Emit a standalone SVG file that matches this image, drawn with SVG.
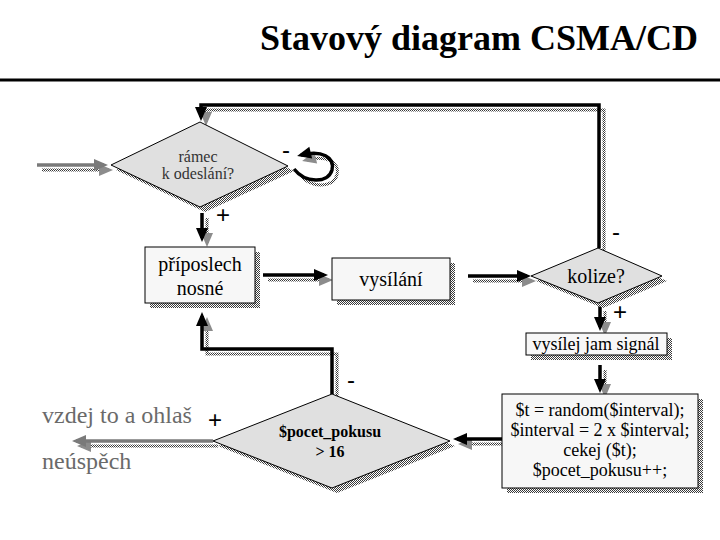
<svg xmlns="http://www.w3.org/2000/svg" width="720" height="540" viewBox="0 0 720 540">
<style>
.t{font-family:"Liberation Serif","Times New Roman",serif;}
.s{font-family:"Liberation Sans",Arial,sans-serif;}
.node{stroke:#000;stroke-width:1;}
.box{fill:#f7f7f7;}
.dia{fill:#e0e0e0;}
.shf{fill:url(#dith);stroke:none;}
.c{fill:none;stroke:#000;stroke-width:3.5;marker-end:url(#ah);}
.g{fill:none;stroke:#7a7a7a;stroke-width:3.5;marker-end:url(#ahg);}
.sh{fill:none;stroke:url(#dith);stroke-width:3;marker-end:url(#ahs);}
</style>
<defs>
<pattern id="dith" width="2" height="2" patternUnits="userSpaceOnUse">
<rect width="2" height="2" fill="#fff"/>
<rect width="1" height="1" fill="#3a3a3a"/>
<rect x="1" y="1" width="1" height="1" fill="#3a3a3a"/>
</pattern>
<marker id="ah" markerUnits="userSpaceOnUse" markerWidth="15" markerHeight="13" refX="10" refY="6" orient="auto" overflow="visible">
<path d="M0,0 L14,6 L0,12 z" fill="#000"/>
</marker>
<marker id="ahg" markerUnits="userSpaceOnUse" markerWidth="15" markerHeight="13" refX="10" refY="6" orient="auto" overflow="visible">
<path d="M0,0 L14,6 L0,12 z" fill="#7a7a7a"/>
</marker>
<marker id="ahs" markerUnits="userSpaceOnUse" markerWidth="15" markerHeight="13" refX="10" refY="6" orient="auto" overflow="visible">
<path d="M0,0 L14,6 L0,12 z" fill="#8c8c8c"/>
</marker>
</defs>
<rect width="720" height="540" fill="#fff"/>

<g id="title">
<text class="t" x="698" y="50" font-size="36" font-weight="bold" text-anchor="end" fill="#000">Stavový diagram CSMA/CD</text>
<line x1="0" y1="80" x2="720" y2="80" stroke="#000" stroke-width="3"/>
</g>

<g id="connectors">
<g transform="translate(5,5)">
<path class="sh" d="M37,165 L104,165"/>
<path class="sh" d="M599,248 L599,105 L201,105 L201,117"/>
<path class="sh" d="M294,169 C305,183 328,184 332,170 C335,157 322,150 301,155"/>
<path class="sh" d="M202,213 L202,238"/>
<path class="sh" d="M263,275 L324,275"/>
<path class="sh" d="M468,276 L527,276"/>
<path class="sh" d="M600,306 L600,327"/>
<path class="sh" d="M600,365 L600,389"/>
<path class="sh" d="M502,439 L457,439"/>
<path class="sh" d="M332,394 L332,349 L202,349 L202,316"/>
<path class="sh" d="M213,441 L76,441"/>
</g>
<path class="g" d="M37,165 L104,165"/>
<path class="c" d="M599,248 L599,105 L201,105 L201,117"/>
<path class="c" d="M294,169 C305,183 328,184 332,170 C335,157 322,150 301,155"/>
<path class="c" d="M202,213 L202,238"/>
<path class="c" d="M263,275 L324,275"/>
<path class="c" d="M468,276 L527,276"/>
<path class="c" d="M600,306 L600,327"/>
<path class="c" d="M600,365 L600,389"/>
<path class="c" d="M502,439 L457,439"/>
<path class="c" d="M332,394 L332,349 L202,349 L202,316"/>
<path class="g" d="M213,441 L76,441"/>
</g>

<g id="labels">
<text class="s" x="286" y="158" font-size="24" text-anchor="middle" fill="#000">-</text>
<text class="s" x="223" y="223" font-size="24" text-anchor="middle" fill="#000">+</text>
<text class="s" x="616" y="240" font-size="24" text-anchor="middle" fill="#000">-</text>
<text class="s" x="620" y="320" font-size="24" text-anchor="middle" fill="#000">+</text>
<text class="s" x="351" y="388" font-size="24" text-anchor="middle" fill="#000">-</text>
<text class="s" x="215" y="428" font-size="24" text-anchor="middle" fill="#000">+</text>
<text class="t" x="42" y="423" font-size="24" fill="#6a6a6a">vzdej to a ohlaš</text>
<text class="t" x="42" y="469" font-size="24" fill="#6a6a6a">neúspěch</text>
</g>

<g id="ramec">
<path class="shf" d="M116,170 L206,127 L294,171 L205,212 z"/>
<path class="node dia" d="M111,165 L200,122 L288,166 L200,207 z"/>
<text class="t" x="198" y="162" font-size="16" text-anchor="middle" fill="#333">rámec</text>
<text class="t" x="198" y="179" font-size="16" text-anchor="middle" fill="#333">k odeslání?</text>
</g>

<g id="priposlech">
<rect class="shf" x="150" y="252" width="110" height="56"/>
<rect class="node box" x="145" y="247" width="110" height="56"/>
<text class="t" x="200" y="271" font-size="20" text-anchor="middle">příposlech</text>
<text class="t" x="200" y="295" font-size="20" text-anchor="middle">nosné</text>
</g>

<g id="vysilani">
<rect class="shf" x="337" y="263" width="118" height="42"/>
<rect class="node box" x="332" y="258" width="118" height="42"/>
<text class="t" x="391" y="286" font-size="20" text-anchor="middle">vysílání</text>
</g>

<g id="kolize">
<path class="shf" d="M536,281 L603,253 L667,281 L603,308 z"/>
<path class="node dia" d="M531,276 L598,248 L662,276 L598,303 z"/>
<text class="t" x="596" y="283" font-size="20" text-anchor="middle">kolize?</text>
</g>

<g id="jam">
<rect class="shf" x="531" y="338" width="141" height="22"/>
<rect class="node box" x="526" y="333" width="141" height="22"/>
<text class="t" x="596" y="350" font-size="18" text-anchor="middle">vysílej jam signál</text>
</g>

<g id="backoff">
<rect class="shf" x="507" y="399" width="196" height="94"/>
<rect class="node box" x="502" y="394" width="196" height="94"/>
<text class="t" x="600" y="416" font-size="18" text-anchor="middle">$t = random($interval);</text>
<text class="t" x="600" y="436" font-size="18" text-anchor="middle">$interval = 2 x $interval;</text>
<text class="t" x="600" y="456" font-size="18" text-anchor="middle">cekej ($t);</text>
<text class="t" x="600" y="476" font-size="18" text-anchor="middle">$pocet_pokusu++;</text>
</g>

<g id="pokusu">
<path class="shf" d="M218,446 L337,399 L455,446 L337,493 z"/>
<path class="node dia" d="M213,441 L332,394 L450,441 L332,488 z"/>
<text class="t" x="330" y="437" font-size="16" font-weight="bold" text-anchor="middle">$pocet_pokusu</text>
<text class="t" x="330" y="457" font-size="16" font-weight="bold" text-anchor="middle">&gt; 16</text>
</g>
</svg>
